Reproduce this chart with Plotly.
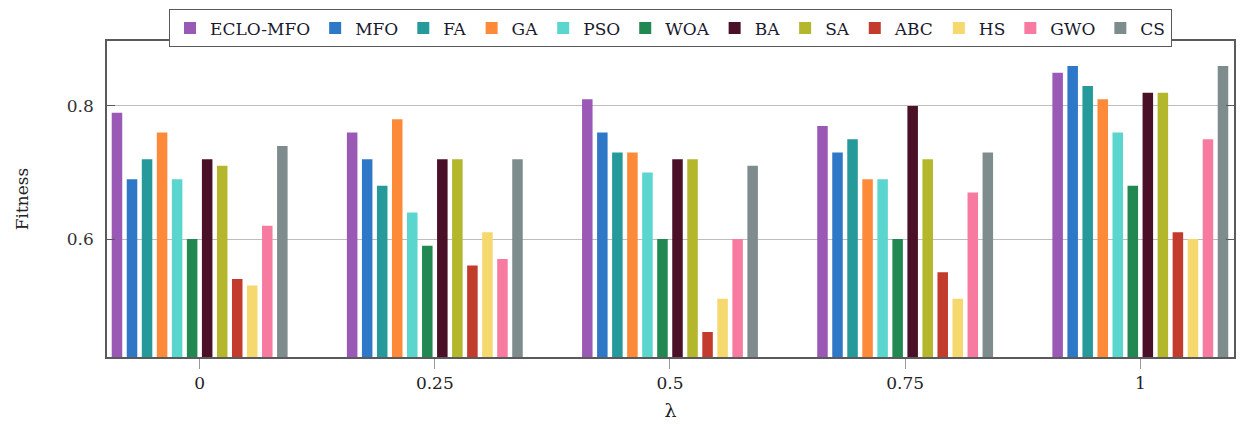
import plotly.graph_objects as go

# Fitness of each optimiser for different lambda settings
lambdas = [0, 0.25, 0.5, 0.75, 1]

algorithms = ["ECLO-MFO", "MFO", "FA", "GA", "PSO", "WOA",
              "BA", "SA", "ABC", "HS", "GWO", "CS"]

eclo_mfo = [0.79, 0.76, 0.81, 0.77, 0.85]
mfo = [0.69, 0.72, 0.76, 0.73, 0.86]
fa = [0.72, 0.68, 0.73, 0.75, 0.83]
ga = [0.76, 0.78, 0.73, 0.69, 0.81]
pso = [0.69, 0.64, 0.70, 0.69, 0.76]
woa = [0.60, 0.59, 0.60, 0.60, 0.68]
ba = [0.72, 0.72, 0.72, 0.80, 0.82]
sa = [0.71, 0.72, 0.72, 0.72, 0.82]
abc = [0.54, 0.56, 0.46, 0.55, 0.61]
hs = [0.53, 0.61, 0.51, 0.51, 0.60]
gwo = [0.62, 0.57, 0.60, 0.67, 0.75]
cs = [0.74, 0.72, 0.71, 0.73, 0.86]

series = [eclo_mfo, mfo, fa, ga, pso, woa, ba, sa, abc, hs, gwo, cs]

colors = ["#9b59b6", "#2f78c8", "#26999a", "#fd8a38", "#5ad6cf", "#208850",
          "#4a1028", "#b4b62c", "#c33b2c", "#f5d86e", "#f77ba1", "#7f8c8d"]

SERIF = "DejaVu Serif"
AXIS_COLOR = "#5a5a5a"

fig = go.Figure()
for name, vals, col in zip(algorithms, series, colors):
    fig.add_trace(go.Bar(
        x=lambdas, y=vals, name=name,
        marker=dict(color=col, line=dict(width=0)),
    ))

fig.update_layout(
    width=1242, height=424,
    margin=dict(l=107, r=6, t=41, b=67),
    paper_bgcolor="white", plot_bgcolor="white",
    barmode="group", bargap=0.233, bargroupgap=0.3,
    font=dict(family=SERIF, size=16, color="#222"),
    showlegend=True,
    legend=dict(
        orientation="h", x=0.5, xanchor="center", y=1.10, yanchor="top",
        bgcolor="white", bordercolor=AXIS_COLOR, borderwidth=1,
        font=dict(family=SERIF, size=17, color="#1a1a2e"),
        itemwidth=30, tracegroupgap=0,
    ),
)

fig.update_xaxes(
    range=[-0.0985, 1.0996],
    tickvals=lambdas, ticktext=["0", "0.25", "0.5", "0.75", "1"],
    ticks="outside", ticklen=10, tickcolor="#999",
    showline=True, linecolor=AXIS_COLOR, linewidth=1.5, mirror=True,
    showgrid=False, zeroline=False,
    tickfont=dict(family=SERIF, size=17, color="#222"),
    title=dict(text="λ", font=dict(family=SERIF, size=19), standoff=12),
)

fig.update_yaxes(
    range=[0.4226, 0.8977],
    tickvals=[0.6, 0.8], ticktext=["0.6", "0.8"],
    ticks="inside", ticklen=8, tickcolor=AXIS_COLOR,
    showline=True, linecolor=AXIS_COLOR, linewidth=1.5, mirror="ticks",
    showgrid=True, gridcolor="#bdbdbd", gridwidth=1, zeroline=False,
    tickfont=dict(family=SERIF, size=17, color="#333"),
    ticklabelstandoff=8,
    title=dict(text="Fitness", font=dict(family=SERIF, size=17), standoff=34),
)

fig.write_html("out.html")
